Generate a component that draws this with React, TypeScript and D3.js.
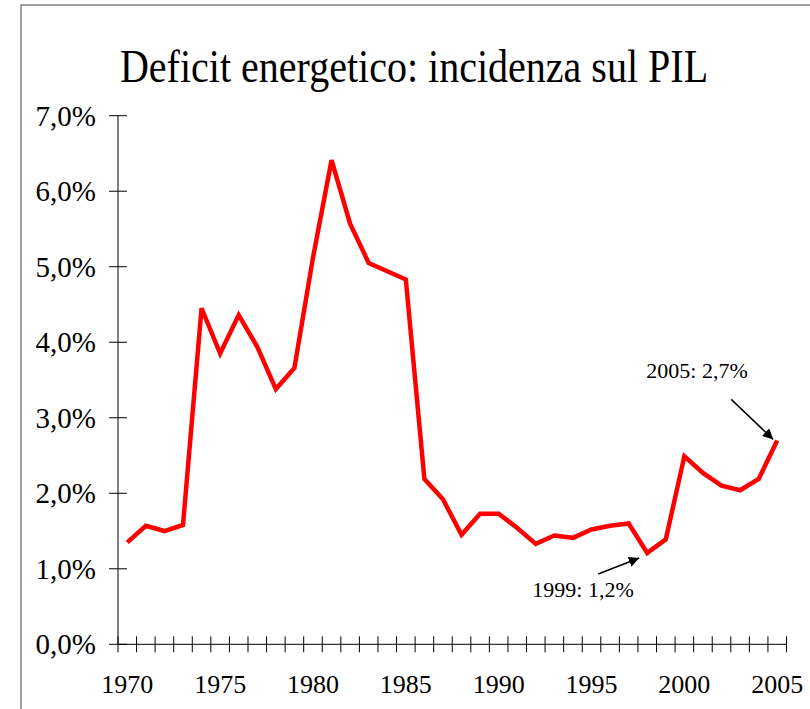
// Line chart: energy deficit as share of GDP, 1970-2005

import React, { useEffect, useRef } from "react"
import * as d3 from "d3"

const years = d3.range(1970, 2006)
const deficit = [
  1.35, 1.57, 1.5, 1.58, 4.45, 3.85, 4.36, 3.94, 3.38, 3.66,
  5.12, 6.41, 5.57, 5.05, 4.94, 4.83, 2.19, 1.92, 1.45, 1.73,
  1.73, 1.54, 1.33, 1.44, 1.41, 1.52, 1.57, 1.6, 1.21, 1.39,
  2.49, 2.27, 2.1, 2.04, 2.19, 2.7
]
const yTicks = [0, 1, 2, 3, 4, 5, 6, 7]
const xLabelYears = [1970, 1975, 1980, 1985, 1990, 1995, 2000, 2005]
const title = "Deficit energetico: incidenza sul PIL"
const notes = [
  { text: "1999: 1,2%", year: 1998, value: 1.21 },
  { text: "2005: 2,7%", year: 2005, value: 2.7 }
]

const FONT = "Liberation Serif, Times New Roman, serif"

export default function App() {
  const ref = useRef<SVGSVGElement>(null)

  useEffect(() => {
    const svg = d3.select(ref.current)
    svg.selectAll("*").remove()

    const left = 118, right = 786.5, top = 115.7, bottom = 644.3

    const x = d3.scaleBand<number>().domain(years).range([left, right]).padding(0)
    const y = d3.scaleLinear().domain([0, 7]).range([bottom, top])
    const it = d3.formatLocale({ decimal: ",", thousands: ".", grouping: [3], currency: ["€", ""] })
    const fmt = it.format(".1f")

    // outer frame
    svg.append("rect")
      .attr("x", 21).attr("y", 5)
      .attr("width", 900).attr("height", 900)
      .attr("fill", "none").attr("stroke", "#808080").attr("stroke-width", 1.5)

    // title is a bit condensed in the original
    svg.append("text")
      .attr("transform", "translate(414,82) scale(0.87,1)")
      .attr("text-anchor", "middle")
      .attr("font-family", FONT).attr("font-size", 46)
      .text(title)

    // y axis
    const ya = svg.append("g")
    ya.append("line")
      .attr("x1", left).attr("x2", left).attr("y1", top).attr("y2", bottom)
      .attr("stroke", "#000").attr("stroke-width", 1)
    yTicks.forEach(t => {
      ya.append("line")
        .attr("x1", left - 9).attr("x2", left + 9).attr("y1", y(t)).attr("y2", y(t))
        .attr("stroke", "#000")
      ya.append("text")
        .attr("x", 96).attr("y", y(t)).attr("dy", "0.35em")
        .attr("text-anchor", "end")
        .attr("font-family", FONT).attr("font-size", 29)
        .text(fmt(t) + "%")
    })

    // x axis, ticks on category boundaries
    const xa = svg.append("g")
    xa.append("line")
      .attr("x1", left).attr("x2", right).attr("y1", bottom).attr("y2", bottom)
      .attr("stroke", "#000")
    const bounds = years.map(d => x(d)!).concat([right])
    bounds.forEach(b => {
      xa.append("line")
        .attr("x1", b).attr("x2", b).attr("y1", bottom - 8).attr("y2", bottom + 8)
        .attr("stroke", "#000")
    })
    xLabelYears.forEach(yr => {
      xa.append("text")
        .attr("x", x(yr)! + x.bandwidth() / 2).attr("y", 693)
        .attr("text-anchor", "middle")
        .attr("font-family", FONT).attr("font-size", 26)
        .text(yr)
    })

    const line = d3.line<number>()
      .x((_, i) => x(years[i])! + x.bandwidth() / 2)
      .y(d => y(d))

    svg.append("path")
      .datum(deficit)
      .attr("d", line)
      .attr("fill", "none")
      .attr("stroke", "#ff0000")
      .attr("stroke-width", 4.5)
      .attr("stroke-linejoin", "miter")

    // annotations with arrows
    svg.append("defs").append("marker")
      .attr("id", "arrow")
      .attr("viewBox", "0 0 10 10")
      .attr("refX", 10).attr("refY", 5)
      .attr("markerWidth", 7).attr("markerHeight", 7)
      .attr("markerUnits", "strokeWidth")
      .attr("orient", "auto")
      .append("path").attr("d", "M0,0 L10,5 L0,10 z").attr("fill", "#000")

    const low = notes[0], last = notes[1]
    const lowX = x(low.year)! + x.bandwidth() / 2
    const lastX = x(last.year)! + x.bandwidth() / 2

    svg.append("line")
      .attr("x1", lowX - 49).attr("y1", y(low.value) + 21)
      .attr("x2", lowX - 8).attr("y2", y(low.value) + 5)
      .attr("stroke", "#000").attr("stroke-width", 1.5)
      .attr("marker-end", "url(#arrow)")
    svg.append("text")
      .attr("x", 583).attr("y", 597)
      .attr("text-anchor", "middle")
      .attr("font-family", FONT).attr("font-size", 22)
      .text(low.text)

    svg.append("line")
      .attr("x1", lastX - 46).attr("y1", y(last.value) - 41)
      .attr("x2", lastX - 4).attr("y2", y(last.value) - 1)
      .attr("stroke", "#000").attr("stroke-width", 1.5)
      .attr("marker-end", "url(#arrow)")
    svg.append("text")
      .attr("x", 697).attr("y", 378)
      .attr("text-anchor", "middle")
      .attr("font-family", FONT).attr("font-size", 22)
      .text(last.text)
  }, [])

  return (
    <svg
      ref={ref}
      width={810}
      height={709}
      style={{ position: "absolute", left: 0, top: 0, background: "#fff" }}
    />
  )
}
